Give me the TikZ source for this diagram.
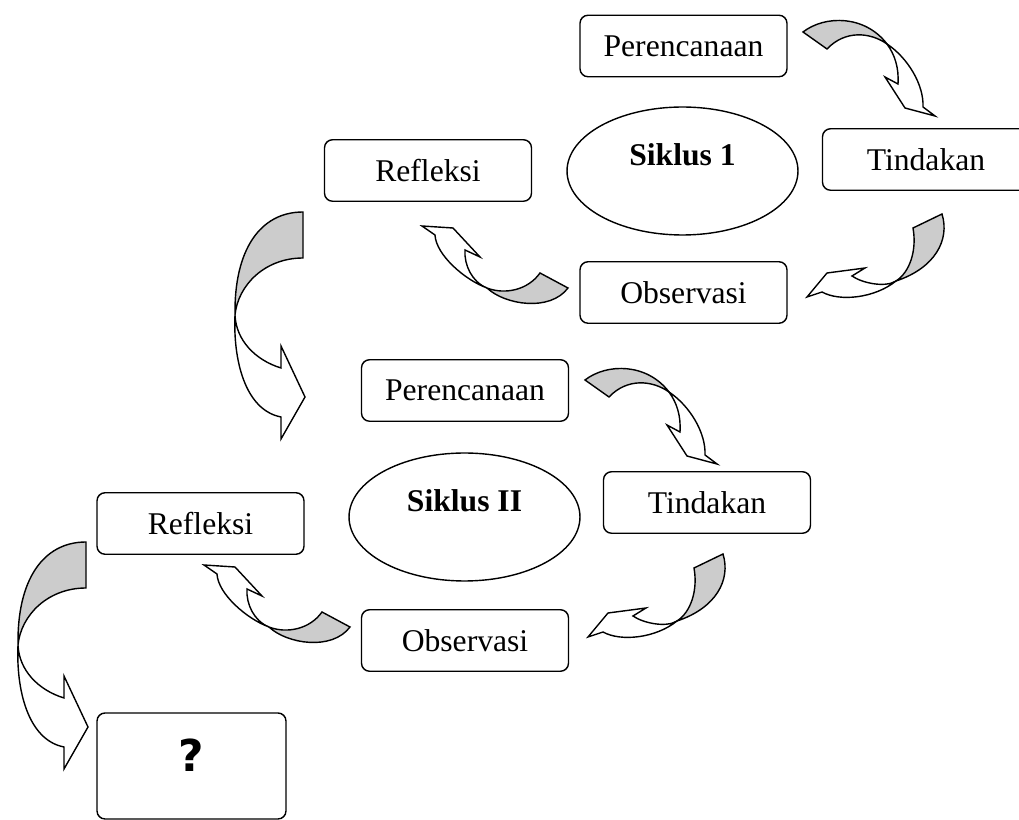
\documentclass[tikz,border=0pt]{standalone}
\usepackage{fontspec}
\setmainfont{Liberation Serif}
\newfontfamily\qmarkfont{DejaVu Sans}
\usetikzlibrary{shapes.geometric}
\definecolor{backgray}{RGB}{204,204,204}

\begin{document}
\begin{tikzpicture}[x=0.02cm, y=-0.02cm, line width=0.8pt,
   box/.style={draw, rounded corners=0.16cm, minimum width=4.14cm, minimum height=1.23cm,
               inner sep=0pt, font=\fontsize{18}{22}\selectfont},
   qbox/.style={minimum width=3.78cm, minimum height=2.12cm, text depth=12.5pt,
               font=\qmarkfont\bfseries\fontsize{25}{30}\selectfont},
   cyc/.style={draw, ellipse, minimum width=4.62cm, minimum height=2.56cm, inner sep=0pt,
               text depth=19pt, font=\fontsize{18}{22}\selectfont\bfseries},
   back/.style={draw, fill=backgray},
   front/.style={draw, fill=white},
   pics/arrPT/.style={code={
      \filldraw[back] (803,32) .. controls (825,15) and (865,15) .. (887,44)
                      .. controls (870,32) and (845,30) .. (827,49) -- cycle;
      \filldraw[front] (887,44) .. controls (895,55) and (899,68) .. (898,84)
                      -- (885,77) -- (905,108) -- (935,116) -- (923,107)
                      .. controls (924,85) and (908,58) .. (887,44) -- cycle;}},
   pics/arrTO/.style={code={
      \filldraw[back] (942,214) .. controls (950,240) and (935,268) .. (896,281)
                      .. controls (910,272) and (917,250) .. (913,228) -- cycle;
      \filldraw[front] (896,281) .. controls (885,288) and (862,283) .. (852,276)
                      -- (865,268) -- (827,273) -- (807,297) -- (822,292)
                      .. controls (840,302) and (875,298) .. (896,281) -- cycle;}},
   pics/arrOR/.style={code={
      \filldraw[back] (540,273) .. controls (528,290) and (505,295) .. (487,288)
                      .. controls (505,305) and (550,312) .. (568,288) -- cycle;
      \filldraw[front] (487,288) .. controls (472,282) and (464,265) .. (465,250)
                      -- (480,257) -- (453,228) -- (422,226) -- (435,235)
                      .. controls (436,255) and (465,280) .. (487,288) -- cycle;}},
   pics/arrRP/.style={code={
      \filldraw[back] (303,212) .. controls (260,212) and (234,250) .. (235,315)
                      .. controls (238,285) and (265,258) .. (303,258) -- cycle;
      \filldraw[front] (235,315) .. controls (236,340) and (255,360) .. (281,368)
                      -- (281,346) -- (305,397) -- (281,439) -- (281,417)
                      .. controls (245,410) and (233,360) .. (235,315) -- cycle;}}]

   \useasboundingbox (0,0) rectangle (1019,820);
   \clip (0,0) rectangle (1019,820);

   % Siklus 1
      \node[cyc]  (s1)  at (682.5,171)  {Siklus 1};
      \node[box]  (p1)  at (683.5,46)   {Perencanaan};
      \node[box]  (t1)  at (926,159.5)  {Tindakan};
      \node[box]  (o1)  at (683.5,292.5) {Observasi};
      \node[box]  (r1)  at (428,170.5)  {Refleksi};

   % Siklus II
      \node[cyc]  (s2)  at (464.5,517)  {Siklus II};
      \node[box]  (p2)  at (465,390.5)  {Perencanaan};
      \node[box]  (t2)  at (707,502.5)  {Tindakan};
      \node[box]  (o2)  at (465,640.5)  {Observasi};
      \node[box]  (r2)  at (200.5,523.5) {Refleksi};

   % Hasil
      \node[box,qbox] (q) at (191.5,766) {?};

   % Arrows
      \pic at (0,0)       {arrPT};
      \pic at (0,0)       {arrTO};
      \pic at (0,0)       {arrOR};
      \pic at (0,0)       {arrRP};
      \pic at (-218,348)  {arrPT};
      \pic at (-219,340)  {arrTO};
      \pic at (-218,339)  {arrOR};
      \pic at (-217,330)  {arrRP};
\end{tikzpicture}
\end{document}
